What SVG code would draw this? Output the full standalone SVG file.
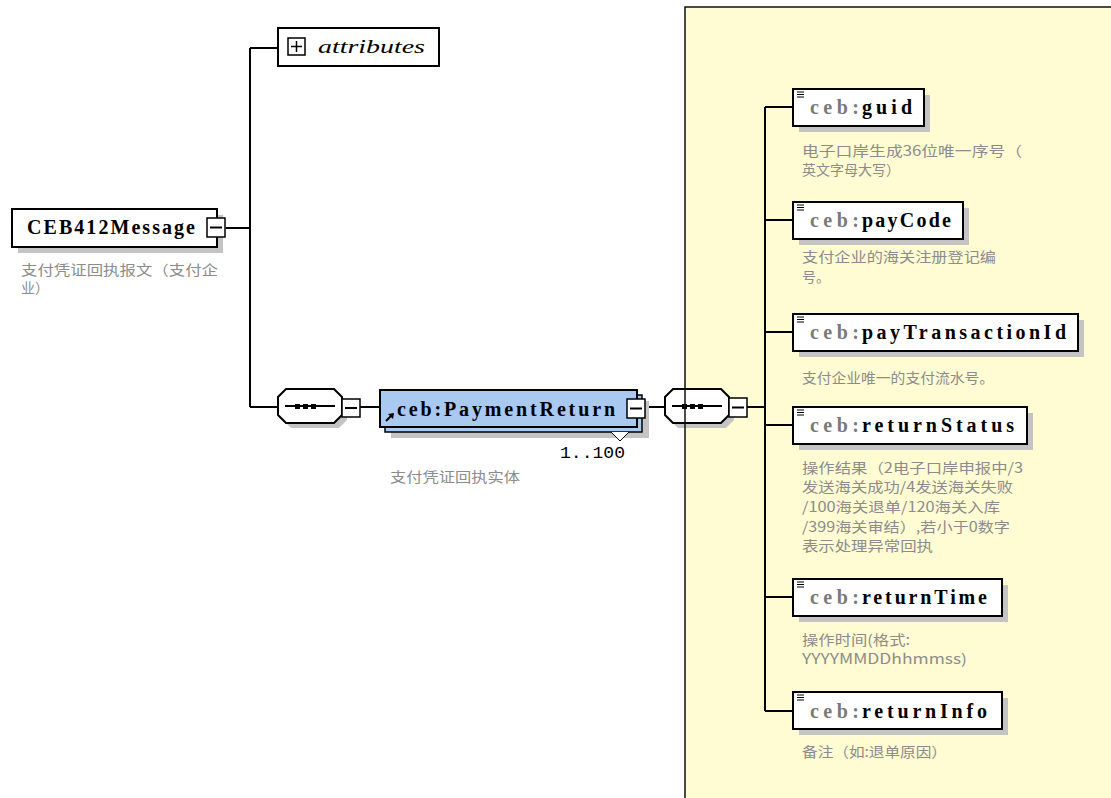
<svg xmlns="http://www.w3.org/2000/svg" width="1111" height="798" viewBox="0 0 1111 798">
<style>
.box{fill:#fff;stroke:#000;stroke-width:2}
.shadow{fill:#c4c4c4;stroke:none}
.line{fill:none;stroke:#000;stroke-width:2}
.btn{fill:#fff;stroke:#000;stroke-width:1.5}
.name{font-family:"Liberation Serif","DejaVu Serif",serif;font-weight:bold;font-size:20px;fill:#000}
.pre{fill:#7a7a7a}
.desc{font-family:"Noto Sans CJK SC","Noto Sans",sans-serif;font-size:14px;fill:#8c8c8c}
</style>
<rect width="1111" height="798" fill="#fff"/>
<rect x="685" y="7" width="430" height="800" fill="#fffbd3"/>

<g id="connectors">
<path class="line" d="M226 228H250M250 48V407M250 48H278M250 407H278M360 407H380M645 407H665M747 407H765M765 107V711M765 107H793M765 220H793M765 332H793M765 425H793M765 597H793M765 711H793"/>
</g>

<g id="CEB412Message">
<rect class="shadow" x="18" y="215" width="205" height="38"/>
<rect class="box" x="12" y="209" width="205" height="38"/>
<text class="name" x="27" y="234" textLength="168" lengthAdjust="spacing">CEB412Message</text>
<rect class="btn" x="207" y="218" width="18" height="19"/>
<path class="line" stroke-width="1.5" d="M210 227.5H222"/>
<text class="desc" x="21" y="275" textLength="197" lengthAdjust="spacingAndGlyphs">支付凭证回执报文（支付企</text>
<text class="desc" x="21" y="293">业）</text>
</g>

<g id="attributes">
<rect class="box" x="278" y="28" width="161" height="38"/>
<rect class="btn" x="288" y="38" width="17" height="17"/>
<path fill="none" stroke="#000" stroke-width="1.5" d="M291 46.5H302M296.5 41V52"/>
<text x="318" y="53" font-family="Liberation Serif,serif" font-style="italic" font-size="18" textLength="107" lengthAdjust="spacingAndGlyphs">attributes</text>
</g>

<g id="sequence1">
<polygon class="shadow" points="291,394 339,394 347,402 347,420 339,428 291,428 283,420 283,402"/>
<polygon class="box" stroke-width="1.5" points="286,389 334,389 342,397 342,415 334,423 286,423 278,415 278,397"/>
<path class="line" stroke-width="1.5" d="M285 406H335"/>
<rect x="295" y="404" width="5" height="5"/><rect x="303" y="404" width="5" height="5"/><rect x="311" y="404" width="5" height="5"/>
<rect class="btn" x="342" y="399" width="18" height="18"/>
<path class="line" stroke-width="1.5" d="M345 408H357"/>
</g>

<g id="PaymentReturn">
<rect class="shadow" x="391" y="401" width="258" height="37"/>
<rect x="385" y="395" width="257" height="37" fill="#a9c9f0" stroke="#000" stroke-width="1.5"/>
<rect x="380" y="390" width="257" height="37" fill="#a9c9f0" stroke="#000" stroke-width="2"/>
<text class="name" x="397" y="416" textLength="218" lengthAdjust="spacing">ceb:PaymentReturn</text>
<path class="line" stroke-width="1.8" d="M386 421L392 415"/>
<polygon points="394,413 388,414 393,419"/>
<rect class="btn" x="627" y="399" width="18" height="19"/>
<path class="line" stroke-width="1.5" d="M630 408.5H642"/>
<polyline fill="#fff" stroke="#000" stroke-width="1" points="611,432 620,441 629,432"/>
<text x="560" y="458" font-family="Liberation Mono,monospace" font-size="17" textLength="65" lengthAdjust="spacingAndGlyphs">1..100</text>
<text class="desc" x="390" y="482" textLength="130" lengthAdjust="spacingAndGlyphs">支付凭证回执实体</text>
</g>

<g id="sequence2">
<polygon class="shadow" points="678,394 726,394 734,402 734,420 726,428 678,428 670,420 670,402"/>
<polygon class="box" stroke-width="1.5" points="673,389 721,389 729,397 729,415 721,423 673,423 665,415 665,397"/>
<path class="line" stroke-width="1.5" d="M672 406H722"/>
<rect x="682" y="404" width="5" height="5"/><rect x="690" y="404" width="5" height="5"/><rect x="698" y="404" width="5" height="5"/>
<rect class="btn" x="729" y="398" width="18" height="19"/>
<path class="line" stroke-width="1.5" d="M732 407.5H744"/>
</g>

<g id="panel-border">
<rect x="685" y="7" width="430" height="800" fill="none" stroke="#111" stroke-width="1.5"/>
</g>

<g id="guid">
<rect class="shadow" x="799" y="95" width="131" height="37"/>
<rect class="box" x="793" y="89" width="131" height="37"/>
<path stroke="#000" stroke-width="1" d="M797 92H804M797 94.5H804M797 97H804"/>
<text class="name pre" x="810" y="114" textLength="49" lengthAdjust="spacing">ceb:</text>
<text class="name" x="862" y="114" textLength="50" lengthAdjust="spacing">guid</text>
<text class="desc" x="802" y="156" textLength="220" lengthAdjust="spacingAndGlyphs">电子口岸生成36位唯一序号（</text>
<text class="desc" x="802" y="175">英文字母大写）</text>
</g>

<g id="payCode">
<rect class="shadow" x="799" y="208" width="170" height="37"/>
<rect class="box" x="793" y="202" width="170" height="37"/>
<path stroke="#000" stroke-width="1" d="M797 205H804M797 207.5H804M797 210H804"/>
<text class="name pre" x="810" y="227" textLength="49" lengthAdjust="spacing">ceb:</text>
<text class="name" x="862" y="227" textLength="89" lengthAdjust="spacing">payCode</text>
<text class="desc" x="802" y="262" textLength="194" lengthAdjust="spacingAndGlyphs">支付企业的海关注册登记编</text>
<text class="desc" x="802" y="282">号。</text>
</g>

<g id="payTransactionId">
<rect class="shadow" x="799" y="320" width="285" height="37"/>
<rect class="box" x="793" y="314" width="285" height="37"/>
<path stroke="#000" stroke-width="1" d="M797 317H804M797 319.5H804M797 322H804"/>
<text class="name pre" x="810" y="339" textLength="49" lengthAdjust="spacing">ceb:</text>
<text class="name" x="862" y="339" textLength="204" lengthAdjust="spacing">payTransactionId</text>
<text class="desc" x="802" y="383" textLength="192" lengthAdjust="spacingAndGlyphs">支付企业唯一的支付流水号。</text>
</g>

<g id="returnStatus">
<rect class="shadow" x="799" y="413" width="234" height="37"/>
<rect class="box" x="793" y="407" width="234" height="37"/>
<path stroke="#000" stroke-width="1" d="M797 410H804M797 412.5H804M797 415H804"/>
<text class="name pre" x="810" y="432" textLength="49" lengthAdjust="spacing">ceb:</text>
<text class="name" x="862" y="432" textLength="152" lengthAdjust="spacing">returnStatus</text>
<text class="desc" x="802" y="473" textLength="221" lengthAdjust="spacingAndGlyphs">操作结果（2电子口岸申报中/3</text>
<text class="desc" x="802" y="492" textLength="211" lengthAdjust="spacingAndGlyphs">发送海关成功/4发送海关失败</text>
<text class="desc" x="802" y="512" textLength="198" lengthAdjust="spacingAndGlyphs">/100海关退单/120海关入库</text>
<text class="desc" x="802" y="532" textLength="208" lengthAdjust="spacingAndGlyphs">/399海关审结）,若小于0数字</text>
<text class="desc" x="802" y="551" textLength="131" lengthAdjust="spacingAndGlyphs">表示处理异常回执</text>
</g>

<g id="returnTime">
<rect class="shadow" x="799" y="585" width="209" height="37"/>
<rect class="box" x="793" y="579" width="209" height="37"/>
<path stroke="#000" stroke-width="1" d="M797 582H804M797 584.5H804M797 587H804"/>
<text class="name pre" x="810" y="604" textLength="49" lengthAdjust="spacing">ceb:</text>
<text class="name" x="862" y="604" textLength="125" lengthAdjust="spacing">returnTime</text>
<text class="desc" x="802" y="645" textLength="108" lengthAdjust="spacingAndGlyphs">操作时间(格式:</text>
<text class="desc" x="802" y="664" textLength="165" lengthAdjust="spacingAndGlyphs">YYYYMMDDhhmmss)</text>
</g>

<g id="returnInfo">
<rect class="shadow" x="799" y="698" width="209" height="37"/>
<rect class="box" x="793" y="692" width="209" height="37"/>
<path stroke="#000" stroke-width="1" d="M797 695H804M797 697.5H804M797 700H804"/>
<text class="name pre" x="810" y="718" textLength="49" lengthAdjust="spacing">ceb:</text>
<text class="name" x="862" y="718" textLength="125" lengthAdjust="spacing">returnInfo</text>
<text class="desc" x="802" y="757" textLength="145" lengthAdjust="spacingAndGlyphs">备注（如:退单原因）</text>
</g>
</svg>
